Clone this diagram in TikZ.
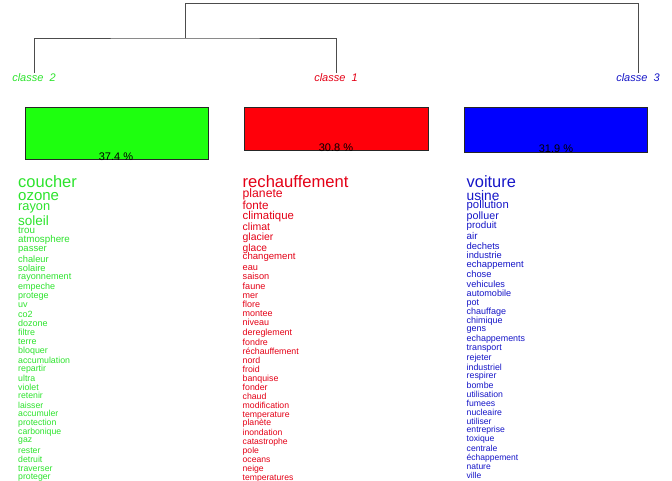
\documentclass[tikz,border=0pt]{standalone}
\usepackage{fontspec}
\setmainfont{Liberation Sans}
\definecolor{gtext}{RGB}{45,228,45}
\definecolor{rtext}{RGB}{228,0,22}
\definecolor{btext}{RGB}{22,22,200}
\definecolor{gbox}{RGB}{30,255,15}
\definecolor{rbox}{RGB}{255,0,10}
\definecolor{bbox}{RGB}{0,0,255}
\begin{document}
\begin{tikzpicture}[x=1pt,y=-1pt,
  dendro/.style={draw=black!70,line width=0.8pt},
  classlabel/.style={inner sep=0pt,anchor=base,font=\fontsize{11}{11}\selectfont\itshape},
  classbox/.style={draw=black!85,line width=0.7pt},
  pct/.style={inner sep=0pt,anchor=base,font=\fontsize{11}{11}\selectfont,text=black},
  word/.style={inner sep=0pt,anchor=base west}]
\useasboundingbox[fill=white] (0,0) rectangle (672,480);

% class labels
\node[classlabel,text=gtext] (l2) at (34,81) {classe\ \ 2};
\node[classlabel,text=rtext] (l1) at (336,81) {classe\ \ 1};
\node[classlabel,text=btext] (l3) at (638,81) {classe\ \ 3};

% dendrogram
\coordinate (m12) at (185,38);
\coordinate (top) at (185,3);
\draw[dendro] (l2.north) |- (m12) -| (l1.north);
\draw[dendro] (m12) -- (top) -| (l3.north);

% boxes
\draw[classbox,fill=gbox] (25,107) rectangle (208,159);
\draw[classbox,fill=rbox] (244,107) rectangle (428,150);
\draw[classbox,fill=bbox] (464,107) rectangle (647,152);
\node[pct] (p2) at (116,160) {37.4 \%};
\node[pct] (p1) at (336,151) {30.8 \%};
\node[pct] (p3) at (556,152) {31.9 \%};

% green words
\foreach \w/\s/\y [count=\i] in {coucher/16.5/183, ozone/15/196, rayon/12.8/207, soleil/13.5/221,
  trou/9.8/231, atmosphere/9.8/240, passer/9.5/249, chaleur/9.3/260, solaire/9.3/269,
  rayonnement/9.1/277, empeche/9/287, protege/9/296, uv/9/305, co2/9/315, dozone/9/324,
  filtre/8.9/333, terre/8.9/342, bloquer/8.9/351, accumulation/8.8/361, repartir/8.8/369,
  ultra/8.8/379, violet/8.8/388, retenir/8.7/396, laisser/8.7/406, accumuler/8.7/414,
  protection/8.7/423, carbonique/8.7/432, gaz/8.7/440, rester/8.7/451, detruit/8.7/460,
  traverser/8.7/469, proteger/8.7/477}
  \node[word,text=gtext,font=\fontsize{\s}{\s}\selectfont] (g\i) at (18,{\y+0.3*\s}) {\w};

% red words
\foreach \w/\s/\y [count=\i] in {rechauffement/16.6/183, planete/12.2/194, fonte/11.7/206,
  climatique/11.4/216, climat/10.5/227, glacier/10.4/237, glace/10.2/248, changement/9.6/257,
  eau/9.2/268, saison/9.2/277, faune/9.1/287, mer/9/296, flore/9/305, montee/9/314,
  niveau/9/323, dereglement/8.9/333, fondre/8.9/343, réchauffement/8.8/352, nord/8.8/361,
  froid/8.8/370, banquise/8.8/379, fonder/8.8/388, chaud/8.7/397, modification/8.7/406,
  temperature/8.7/415, planète/8.7/423, inondation/8.6/433, catastrophe/8.6/442,
  pole/8.6/451, oceans/8.6/460, neige/8.6/469, temperatures/8.6/478}
  \node[word,text=rtext,font=\fontsize{\s}{\s}\selectfont] (r\i) at (242.5,{\y+0.3*\s}) {\w};

% blue words
\foreach \w/\s/\y [count=\i] in {voiture/16.4/183, usine/13.7/196, pollution/11.3/205,
  polluer/10.7/216, produit/9.8/226, air/9.8/237, dechets/9.4/247, industrie/9.3/256,
  echappement/9.4/265, chose/9.3/275, vehicules/9.2/285, automobile/9.1/294, pot/9/303,
  chauffage/9/312, chimique/9/321, gens/9/329, echappements/8.9/339, transport/8.9/348,
  rejeter/8.8/358, industriel/8.8/368, respirer/8.8/376, bombe/8.8/386, utilisation/8.7/395,
  fumees/8.7/404, nucleaire/8.7/413, utiliser/8.6/422, entreprise/8.6/430, toxique/8.6/439,
  centrale/8.6/449, échappement/8.5/458, nature/8.5/467, ville/8.5/476}
  \node[word,text=btext,font=\fontsize{\s}{\s}\selectfont] (b\i) at (466.5,{\y+0.3*\s}) {\w};
\end{tikzpicture}
\end{document}
